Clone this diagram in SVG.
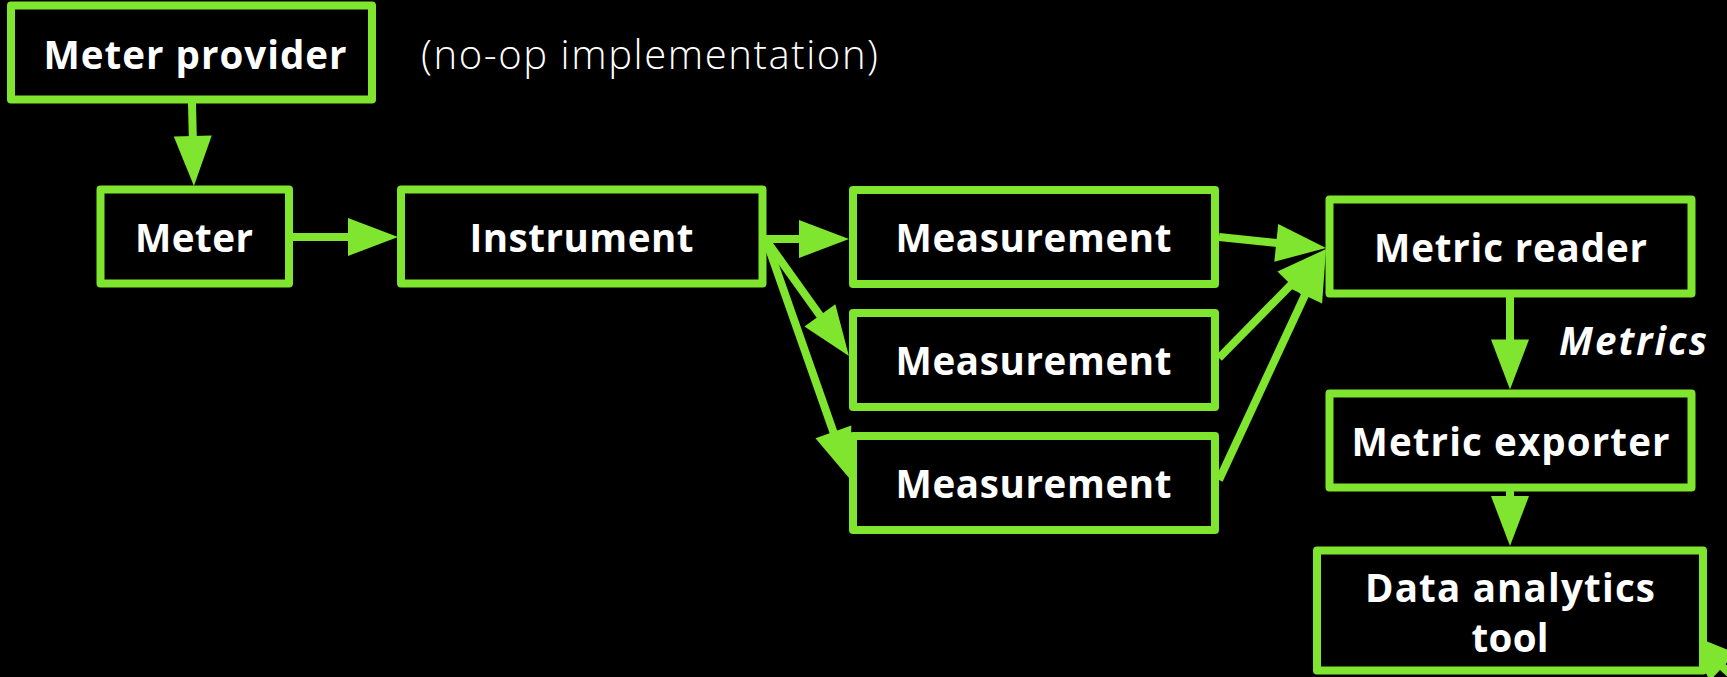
<svg xmlns="http://www.w3.org/2000/svg" width="1727" height="677" viewBox="0 0 1727 677">
  <defs>
    <style>
      .box { fill: #000; stroke: #7fe52f; stroke-width: 8; stroke-linejoin: round; }
      .lbl { font-family: "Open Sans", "Noto Sans", "Liberation Sans", sans-serif; font-weight: 700; font-size: 38.5px; fill: #fff; text-anchor: middle; }
      .note { font-family: "Open Sans", "Noto Sans", "Liberation Sans", sans-serif; font-weight: 300; font-size: 40px; fill: #fff; }
      .edge { stroke: #7fe52f; stroke-width: 8; fill: none; marker-end: url(#ah); }
    </style>
    <!-- filled triangular head: tip sits 40px beyond the line end -->
    <marker id="ah" markerUnits="userSpaceOnUse" markerWidth="50" markerHeight="38" refX="10" refY="19" orient="auto" overflow="visible">
      <path d="M0,0 L50,19 L0,38 Z" fill="#7fe52f"/>
    </marker>
  </defs>

  <rect width="1727" height="677" fill="#000"/>

  <g id="connectors">
    <line class="edge" x1="192" y1="103" x2="193" y2="146"/>
    <line class="edge" x1="293" y1="237" x2="358" y2="237"/>
    <line class="edge" x1="766" y1="239" x2="809" y2="239"/>
    <line class="edge" x1="766" y1="240" x2="825.7" y2="323.5"/>
    <line class="edge" x1="766" y1="240" x2="836.7" y2="441.3"/>
    <line class="edge" x1="1219" y1="237" x2="1286.2" y2="243.9"/>
    <line class="edge" x1="1219" y1="358" x2="1298" y2="277.6"/>
    <line class="edge" x1="1219" y1="480" x2="1309.1" y2="286.3"/>
    <line class="edge" x1="1510" y1="297" x2="1510" y2="349.5"/>
    <line class="edge" x1="1510" y1="491" x2="1510" y2="506"/>
    <line class="edge" x1="1780" y1="720" x2="1715.4" y2="660.2"/>
  </g>

  <g id="meter-provider">
    <rect class="box" x="11" y="5.5" width="361" height="94"/>
    <text class="lbl" x="195" y="69" textLength="303">Meter provider</text>
  </g>
  <text id="noop-note" class="note" x="421" y="69" textLength="457">(no-op implementation)</text>

  <g id="meter">
    <rect class="box" x="100.5" y="189.5" width="188.5" height="94"/>
    <text class="lbl" x="194" y="252" textLength="118">Meter</text>
  </g>
  <g id="instrument">
    <rect class="box" x="401" y="189.5" width="361.5" height="94"/>
    <text class="lbl" x="581.5" y="252" textLength="224">Instrument</text>
  </g>

  <g id="measurement-1">
    <rect class="box" x="853" y="190" width="362" height="94"/>
    <text class="lbl" x="1033.5" y="251.7" textLength="276">Measurement</text>
  </g>
  <g id="measurement-2">
    <rect class="box" x="853" y="313" width="362" height="94"/>
    <text class="lbl" x="1033.5" y="375" textLength="276">Measurement</text>
  </g>
  <g id="measurement-3">
    <rect class="box" x="853" y="436" width="362" height="94"/>
    <text class="lbl" x="1033.5" y="498.3" textLength="276">Measurement</text>
  </g>

  <g id="metric-reader">
    <rect class="box" x="1329.5" y="199.5" width="362" height="94"/>
    <text class="lbl" x="1510.5" y="261.7" textLength="273">Metric reader</text>
  </g>
  <text id="metrics-label" class="lbl" x="1559" y="355" textLength="148" style="text-anchor:start;font-style:italic">Metrics</text>

  <g id="metric-exporter">
    <rect class="box" x="1329.5" y="393.5" width="362" height="94"/>
    <text class="lbl" x="1510.5" y="456" textLength="318">Metric exporter</text>
  </g>

  <g id="data-analytics-tool">
    <rect class="box" x="1317" y="550.5" width="386" height="120"/>
    <text class="lbl" x="1510" y="601.7" textLength="290">Data analytics</text>
    <text class="lbl" x="1510" y="651.7" textLength="77">tool</text>
  </g>
</svg>
